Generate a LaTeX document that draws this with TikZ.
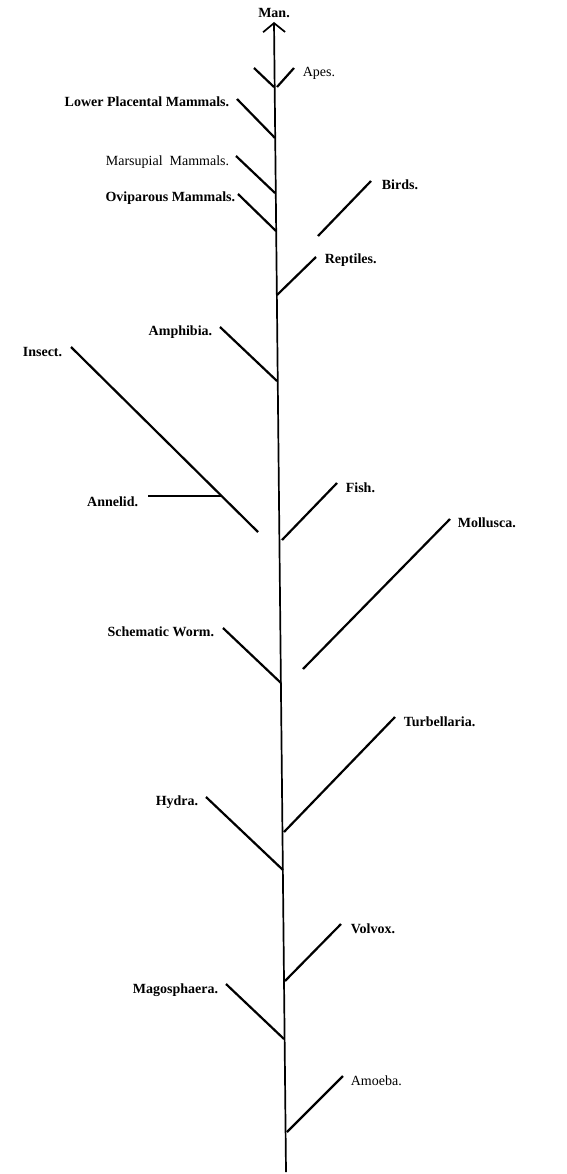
\documentclass[tikz,border=0pt]{standalone}
\usepackage{fontspec}
\setmainfont{Liberation Serif}
\usetikzlibrary{arrows.meta}

\begin{document}
\begin{tikzpicture}[x=1pt,y=-1pt,line width=1.7pt,
  twig/.style={line width=2.2pt},
  lab/.style={font=\fontsize{14}{16}\selectfont\bfseries},
  labr/.style={font=\fontsize{14}{16}\selectfont}]
\tikzstyle{every node}+=[inner sep=0pt]
\useasboundingbox (0,0) rectangle (566,1174);
\coordinate (root) at (286,1172);
\coordinate (top) at (274,22);
\draw [black,-{Straight Barb[length=9pt,width=22pt]}] (root) -- (top);
\node [lab] (man) at (274,13) {Man.};
\coordinate (apesA) at (254,68);
\coordinate (apesB) at (274,87);
\coordinate (apesC) at (277,87);
\coordinate (apesD) at (294,68);
\draw [twig] (apesA) -- (apesB);
\draw [twig] (apesC) -- (apesD);
\node [labr,anchor=west] (apes) at (302,73) {Apes.};
\coordinate (lpmA) at (237,99);
\coordinate (lpmB) at (275,138);
\draw [twig] (lpmA) -- (lpmB);
\node [lab,anchor=east] (lpm) at (230,102) {Lower Placental Mammals.};
\coordinate (marA) at (236,156);
\coordinate (marB) at (275,193);
\draw [twig] (marA) -- (marB);
\node [labr,anchor=east] (mar) at (230,162) {Marsupial\ \ Mammals.};
\coordinate (oviA) at (238,194);
\coordinate (oviB) at (276,231);
\draw [twig] (oviA) -- (oviB);
\node [lab,anchor=east] (ovi) at (236,198) {Oviparous Mammals.};
\coordinate (birA) at (318,236);
\coordinate (birB) at (371,181);
\draw [twig] (birA) -- (birB);
\node [lab,anchor=west] (bir) at (381,185) {Birds.};
\coordinate (repA) at (277,295);
\coordinate (repB) at (316,257);
\draw [twig] (repA) -- (repB);
\node [lab,anchor=west] (rep) at (324,260) {Reptiles.};
\coordinate (amphA) at (220,327);
\coordinate (amphB) at (277,381);
\draw [twig] (amphA) -- (amphB);
\node [lab,anchor=east] (amph) at (213,332) {Amphibia.};
\coordinate (insA) at (71,347);
\coordinate (insB) at (258,532);
\draw [twig] (insA) -- (insB);
\node [lab,anchor=east] (ins) at (63,352) {Insect.};
\coordinate (annA) at (148,496);
\coordinate (annB) at (221,496);
\draw [twig] (annA) -- (annB);
\node [lab,anchor=east] (ann) at (139,502) {Annelid.};
\coordinate (fishA) at (282,540);
\coordinate (fishB) at (337,483);
\draw [twig] (fishA) -- (fishB);
\node [lab,anchor=west] (fish) at (345,488) {Fish.};
\coordinate (molA) at (303,669);
\coordinate (molB) at (450,519);
\draw [twig] (molA) -- (molB);
\node [lab,anchor=west] (mol) at (457,523) {Mollusca.};
\coordinate (wormA) at (223,628);
\coordinate (wormB) at (281,683);
\draw [twig] (wormA) -- (wormB);
\node [lab,anchor=east] (worm) at (215,632) {Schematic Worm.};
\coordinate (turA) at (284,832);
\coordinate (turB) at (395,717);
\draw [twig] (turA) -- (turB);
\node [lab,anchor=west] (tur) at (403,722) {Turbellaria.};
\coordinate (hydA) at (206,797);
\coordinate (hydB) at (283,870);
\draw [twig] (hydA) -- (hydB);
\node [lab,anchor=east] (hyd) at (199,802) {Hydra.};
\coordinate (volA) at (285,981);
\coordinate (volB) at (341,924);
\draw [twig] (volA) -- (volB);
\node [lab,anchor=west] (vol) at (350,929) {Volvox.};
\coordinate (magA) at (226,984);
\coordinate (magB) at (284,1039);
\draw [twig] (magA) -- (magB);
\node [lab,anchor=east] (mag) at (219,990) {Magosphaera.};
\coordinate (amoA) at (287,1132);
\coordinate (amoB) at (343,1076);
\draw [twig] (amoA) -- (amoB);
\node [labr,anchor=west] (amo) at (350,1081) {Amoeba.};
\end{tikzpicture}
\end{document}
